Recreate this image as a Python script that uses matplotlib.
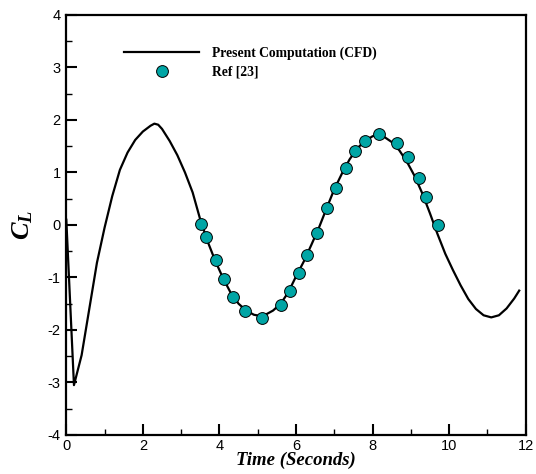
import matplotlib
matplotlib.use("Agg")
import matplotlib.pyplot as plt
from matplotlib.ticker import MultipleLocator

plt.rcParams['mathtext.fontset'] = 'custom'
plt.rcParams['mathtext.it'] = 'Liberation Serif:italic:bold'
plt.rcParams['mathtext.rm'] = 'Liberation Serif:bold'
plt.rcParams['axes.unicode_minus'] = False

# present computation (CFD) curve
t_cfd = [0.0, 0.2, 0.4, 0.6, 0.8, 1.0, 1.2, 1.4, 1.6, 1.8, 2.0, 2.2, 2.3,
         2.4, 2.5, 2.7, 2.9, 3.1, 3.3, 3.5, 3.7, 3.9, 4.1, 4.3, 4.5, 4.7, 4.9,
         5.05, 5.2, 5.4, 5.6, 5.8, 6.0, 6.2, 6.4, 6.6, 6.8, 7.0, 7.2, 7.4,
         7.6, 7.8, 8.0, 8.15, 8.3, 8.5, 8.7, 8.9, 9.1, 9.3, 9.5, 9.7, 9.9,
         10.1, 10.3, 10.5, 10.7, 10.9, 11.1, 11.3, 11.5, 11.7, 11.83]
cl_cfd = [0.1, -3.05, -2.48, -1.6, -0.72, -0.05, 0.55, 1.05, 1.38, 1.62,
          1.78, 1.89, 1.93, 1.91, 1.83, 1.6, 1.33, 1.0, 0.62, 0.1, -0.33, -0.7,
          -1.02, -1.3, -1.5, -1.63, -1.71, -1.73, -1.71, -1.63, -1.5, -1.28,
          -0.98, -0.7, -0.38, -0.05, 0.32, 0.68, 0.98, 1.25, 1.46, 1.6, 1.69,
          1.72, 1.68, 1.58, 1.42, 1.2, 0.93, 0.6, 0.22, -0.18, -0.55, -0.86,
          -1.15, -1.41, -1.6, -1.72, -1.76, -1.72, -1.59, -1.4, -1.25]

# Ref [23]
t_ref = [3.51, 3.65, 3.91, 4.12, 4.36, 4.67, 5.11, 5.6, 5.85, 6.09, 6.3,
         6.54, 6.8, 7.04, 7.31, 7.54, 7.8, 8.18, 8.63, 8.92, 9.22, 9.39, 9.7]
cl_ref = [0.02, -0.23, -0.67, -1.03, -1.37, -1.63, -1.77, -1.52, -1.25,
          -0.92, -0.58, -0.15, 0.33, 0.7, 1.09, 1.41, 1.6, 1.73, 1.57, 1.29,
          0.9, 0.54, 0.0]

fig = plt.figure(figsize=(5.36, 4.74), dpi=100)
ax = fig.add_axes([0.1237, 0.0823, 0.8571, 0.8861])

ax.plot(t_cfd, cl_cfd, color='black', lw=1.6, label='Present Computation (CFD)')
ax.plot(t_ref, cl_ref, 'o', ms=8.5, mfc='#00a5a5', mec='black', mew=0.7,
        label='Ref [23]')

ax.set_xlim(0, 12)
ax.set_ylim(-4, 4)
ax.xaxis.set_major_locator(MultipleLocator(2))
ax.xaxis.set_minor_locator(MultipleLocator(1))
ax.yaxis.set_major_locator(MultipleLocator(1))
ax.yaxis.set_minor_locator(MultipleLocator(0.5))
ax.tick_params(which='major', direction='in', length=8, width=1.5,
               labelsize=10.5, pad=4)
ax.tick_params(which='minor', direction='in', length=4.5, width=1)
ax.tick_params(axis='x', pad=3)
for lab in ax.get_xticklabels() + ax.get_yticklabels():
    lab.set_family('Liberation Sans')
for s in ax.spines.values():
    s.set_linewidth(1.6)

ax.set_xlabel('Time (Seconds)', family='Liberation Serif', style='italic',
              weight='bold', fontsize=13.5, labelpad=-1)
ax.set_ylabel(r'$C_L$', fontsize=19, labelpad=9)

leg = ax.legend(loc='upper left', bbox_to_anchor=(0.1, 0.955), frameon=False,
                handlelength=5.5, handletextpad=0.93, labelspacing=0.44,
                prop={'family': 'Liberation Serif', 'weight': 'bold', 'size': 9.8})

fig.savefig('out.png', dpi=100)
